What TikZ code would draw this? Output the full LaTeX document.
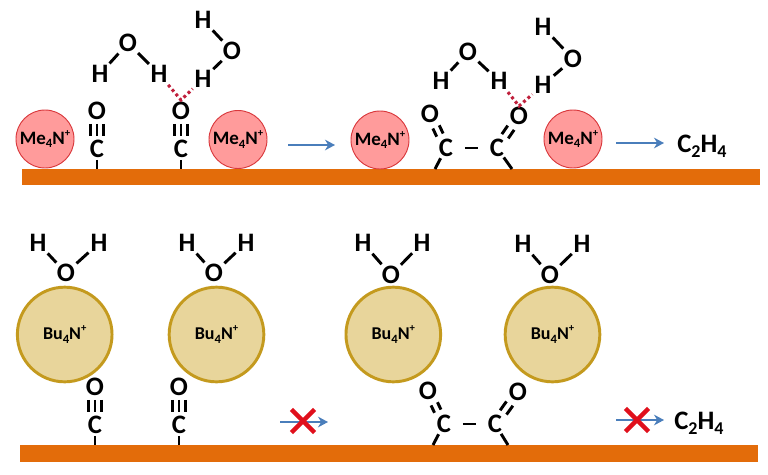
\documentclass[tikz,border=0pt]{standalone}
\usepackage{fontspec}
\setmainfont{Carlito}
\usetikzlibrary{arrows.meta,shapes.misc}
\definecolor{barc}{HTML}{E36C0A}
\definecolor{mefill}{HTML}{FF9B9B}
\definecolor{medraw}{HTML}{D9383C}
\definecolor{bufill}{HTML}{E8D59B}
\definecolor{budraw}{HTML}{C49A1E}
\definecolor{arrc}{HTML}{4A7EBB}
\definecolor{hbond}{HTML}{C0203C}
\definecolor{xred}{HTML}{E0101C}
\tikzset{
  x=0.75pt,y=-0.75pt,
  atom/.style={circle,inner sep=0pt,minimum size=21pt,text height=13pt,text depth=0pt,font=\fontsize{20}{22}\bfseries\selectfont,text=black},
  bond/.style={draw=black,line width=2.2pt},
  hb/.style={draw=hbond,line width=2.3pt,dash pattern=on 2.2pt off 2.2pt},
  surface/.style={fill=barc,draw=none},
  me/.style={circle,draw=medraw,fill=mefill,line width=0.7pt,minimum size=43.5pt,inner sep=0pt,font=\fontsize{14.2}{16}\bfseries\selectfont},
  bu/.style={circle,draw=budraw,fill=bufill,line width=2.2pt,minimum size=71pt,inner sep=0pt,font=\fontsize{13.5}{15}\bfseries\selectfont},
  flow/.style={draw=arrc,line width=2.1pt,-{Stealth[length=7.5pt,width=8pt]}},
  nogo/.style={cross out,draw=xred,line width=3.4pt,minimum size=14pt,inner sep=0pt},
  product/.style={font=\fontsize{20}{22}\bfseries\selectfont,inner sep=0pt},
  dbl1/.style={transform canvas={shift={(2.4pt,1.2pt)}}},
  dbl2/.style={transform canvas={shift={(-2.4pt,-1.2pt)}}},
  dbr1/.style={transform canvas={shift={(2.4pt,-1.6pt)}}},
  dbr2/.style={transform canvas={shift={(-2.4pt,1.6pt)}}},
  tl/.style={transform canvas={xshift=-4.6pt}},
  tr/.style={transform canvas={xshift=4.6pt}},
  trip/.style={shorten <=-1pt,shorten >=-1pt},
}
\newcommand{\MeN}{Me\raisebox{-0.2em}{\fontsize{9.5}{10}\selectfont 4}N\raisebox{0.42em}{\fontsize{8}{9}\selectfont +}}
\newcommand{\BuN}{Bu\raisebox{-0.2em}{\fontsize{9.5}{10}\selectfont 4}N\raisebox{0.42em}{\fontsize{8}{9}\selectfont +}}
\newcommand{\PrdT}{C\raisebox{-0.2em}{\fontsize{13.5}{14}\selectfont 2}H\raisebox{-0.2em}{\fontsize{13.5}{14}\selectfont 4}}
\newcommand{\water}[7]{% prefix, O, H1, H2
  \node[atom] (#1o) at (#2,#3) {O};
  \node[atom] (#1a) at (#4,#5) {H};
  \node[atom] (#1b) at (#6,#7) {H};
  \draw[bond] (#1o)--(#1a);
  \draw[bond] (#1o)--(#1b);
}
\newcommand{\linearco}[5]{% prefix, x, yO, yC, ysurface
  \node[atom] (#1o) at (#2,#3) {O};
  \node[atom] (#1c) at (#2,#4) {C};
  \coordinate (#1s) at (#2,#5);
  \draw[bond,trip] (#1o)--(#1c);
  \draw[bond,trip,tl] (#1o)--(#1c);
  \draw[bond,trip,tr] (#1o)--(#1c);
  \draw[bond,shorten <=-2.5pt] (#1c)--(#1s);
}
\begin{document}
\begin{tikzpicture}
\useasboundingbox (0,0) rectangle (768,475);
\fill[white] (0,0) rectangle (768,475);
% surfaces
\path[surface] (22,169) rectangle (760,185);
\path[surface] (20,445) rectangle (758,462);
% top-left
\node[me] (m1) at (45,139) {\MeN};
\node[me] (m2) at (238,139.5) {\MeN};
\linearco{ca}{97}{111}{149}{169}
\linearco{cb}{181}{111}{149}{169}
\water{wa}{128}{43}{100}{74}{159}{74}
\water{wb}{232}{51}{203}{20}{203}{79}
\coordinate (hva) at (181,100);
\draw[hb] (wab) -- (hva) -- (wbb);
\coordinate (f1a) at (288,145); \coordinate (f1b) at (335,145);
\draw[flow] (f1a) -- (f1b);
% top-right
\node[me] (m3) at (380,140) {\MeN};
\node[me] (m4) at (573,139) {\MeN};
\node[atom] (dol) at (430,114) {O};
\node[atom] (dcl) at (446,148) {C};
\node[atom] (dcr) at (497,148) {C};
\node[atom] (dor) at (519,116) {O};
\coordinate (dsl) at (435,169); \coordinate (dsr) at (512,169);
\draw[bond,dbl1] (dol)--(dcl);
\draw[bond,dbl2] (dol)--(dcl);
\draw[bond,dbr1] (dor)--(dcr);
\draw[bond,dbr2] (dor)--(dcr);
\draw[bond,shorten <=3.5pt,shorten >=3.5pt] (dcl)--(dcr);
\draw[bond,shorten <=-2pt] (dcl)--(dsl);
\draw[bond,shorten <=-2pt] (dcr)--(dsr);
\water{wc}{468}{52}{441}{81}{499}{81}
\water{wd}{573}{59}{543}{27}{543}{85}
\coordinate (hvb) at (519,106);
\draw[hb] (wcb) -- (hvb) -- (wdb);
\coordinate (f2a) at (616,143); \coordinate (f2b) at (664,143);
\draw[flow] (f2a) -- (f2b);
\node[product,anchor=west] (p1) at (677,146) {\PrdT};
% bottom-left
\node[bu] (b1) at (64.7,334.5) {\BuN};
\node[bu] (b2) at (216.5,334.5) {\BuN};
\water{we}{66}{273}{38}{243}{99}{243}
\water{wf}{214}{273}{187}{243}{246}{243}
\linearco{cc}{95}{387}{425}{445}
\linearco{cd}{179}{387}{425}{445}
\coordinate (f3a) at (280,422); \coordinate (f3b) at (328,422);
\draw[flow] (f3a) -- (f3b);
\node[nogo] (x1) at (303,421) {};
% bottom-right
\node[bu] (b3) at (393.3,334.5) {\BuN};
\node[bu] (b4) at (552.5,334.5) {\BuN};
\water{wg}{391}{275}{363}{243}{422}{243}
\water{wh}{550}{275}{523}{244}{582}{244}
\node[atom] (eol) at (428,391) {O};
\node[atom] (ecl) at (444,424) {C};
\node[atom] (ecr) at (495,424) {C};
\node[atom] (eor) at (518,392) {O};
\coordinate (esl) at (433,445); \coordinate (esr) at (508,445);
\draw[bond,dbl1] (eol)--(ecl);
\draw[bond,dbl2] (eol)--(ecl);
\draw[bond,dbr1] (eor)--(ecr);
\draw[bond,dbr2] (eor)--(ecr);
\draw[bond,shorten <=3.5pt,shorten >=3.5pt] (ecl)--(ecr);
\draw[bond,shorten <=-2pt] (ecl)--(esl);
\draw[bond,shorten <=-2pt] (ecr)--(esr);
\coordinate (f4a) at (616,420); \coordinate (f4b) at (664,420);
\draw[flow] (f4a) -- (f4b);
\node[nogo] (x2) at (637,420) {};
\node[product,anchor=west] (p2) at (674,423) {\PrdT};
\end{tikzpicture}
\end{document}
